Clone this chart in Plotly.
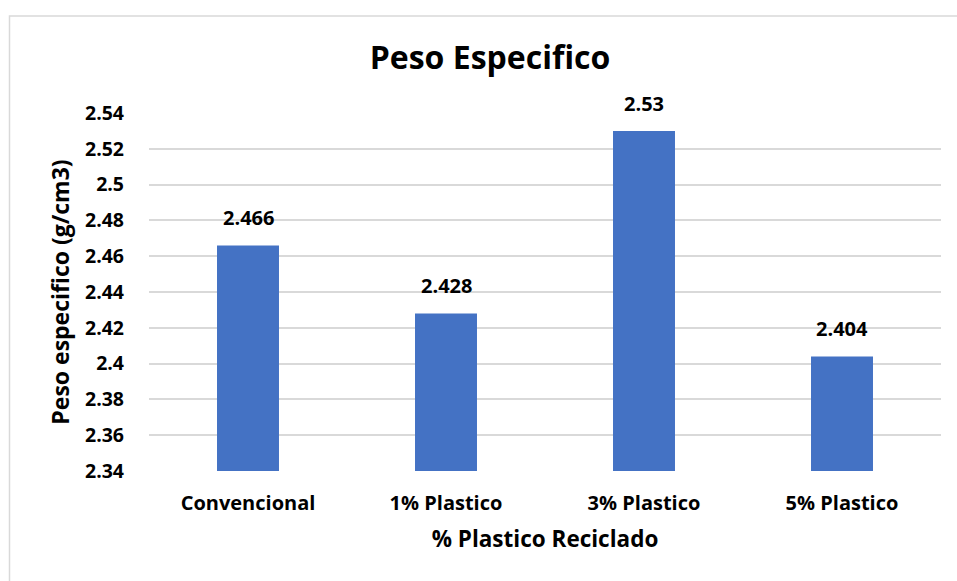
import plotly.graph_objects as go

categories = ["Convencional", "1% Plastico", "3% Plastico", "5% Plastico"]
peso_especifico = [2.466, 2.428, 2.53, 2.404]
y_ticks = [2.34, 2.36, 2.38, 2.40, 2.42, 2.44, 2.46, 2.48, 2.50, 2.52, 2.54]
y_tick_labels = ["2.34", "2.36", "2.38", "2.4", "2.42", "2.44", "2.46", "2.48", "2.5", "2.52", "2.54"]

FONT = "Open Sans"
BAR_COLOR = "#4472C4"
GRID = "#d9d9d9"

fig = go.Figure()
fig.add_trace(go.Bar(
    x=categories,
    y=peso_especifico,
    marker=dict(color=BAR_COLOR, line=dict(width=0)),
    width=0.313,
    hoverinfo="x+y",
))

# value labels above each bar
for cat, val in zip(categories, peso_especifico):
    fig.add_annotation(
        x=cat, y=val, xref="x", yref="y",
        text=f"<b>{val:g}</b>", showarrow=False,
        yanchor="bottom", yshift=12,
        font=dict(family=FONT, size=20, color="#000000"),
    )

fig.update_layout(
    width=957, height=581,
    margin=dict(l=149, r=16, t=113, b=110),
    paper_bgcolor="white", plot_bgcolor="white",
    showlegend=False,
    title=dict(
        text="<b>Peso Especifico</b>",
        x=490 / 957, xanchor="center", xref="container",
        y=1 - 58 / 581, yanchor="middle", yref="container",
        font=dict(family=FONT, size=32, color="#000000"),
    ),
    xaxis=dict(
        type="category",
        showgrid=False, zeroline=False, showline=False,
        ticks="", ticklabelstandoff=18,
        tickfont=dict(family=FONT, size=20, color="#000000", weight="bold"),
        title=dict(text="<b>% Plastico Reciclado</b>", standoff=16,
                   font=dict(family=FONT, size=22.5, color="#000000")),
    ),
    yaxis=dict(
        range=[2.34, 2.54],
        tickvals=y_ticks, ticktext=y_tick_labels,
        showgrid=True, gridcolor=GRID, gridwidth=1.5,
        zeroline=False, showline=False, ticks="",
        ticklabelstandoff=24,
        tickfont=dict(family=FONT, size=19.5, color="#000000", weight="bold"),
        title=dict(text="<b>Peso especifico (g/cm3)</b>", standoff=8,
                   font=dict(family=FONT, size=23, color="#000000")),
    ),
    shapes=[dict(
        type="rect", xref="paper", yref="paper",
        x0=(9.5 - 149) / 792, x1=(970 - 149) / 792,
        y0=-(600 - 468) / 358, y1=(468 - 13) / 358,
        line=dict(color=GRID, width=1.5), fillcolor="rgba(0,0,0,0)",
        layer="below",
    )],
)

fig.write_html("out.html")
